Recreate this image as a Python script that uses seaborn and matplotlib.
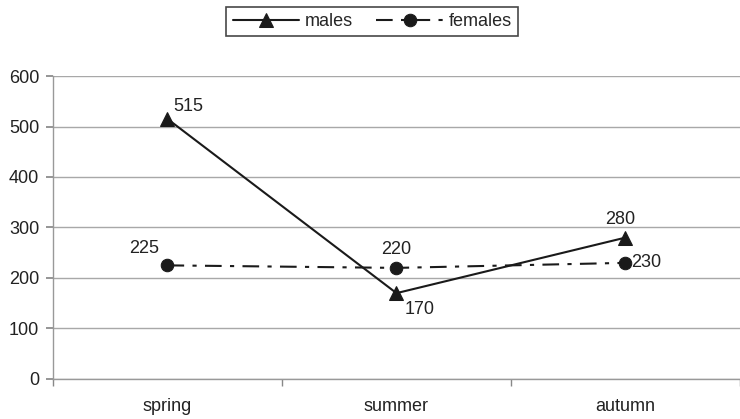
import matplotlib
matplotlib.use("Agg")
import matplotlib.pyplot as plt
import seaborn as sns
import pandas as pd

seasons = ["spring", "summer", "autumn"]
males = [515, 170, 280]
females = [225, 220, 230]
yticks = [0, 100, 200, 300, 400, 500, 600]

sns.set_theme(style="white")
plt.rcParams['font.family'] = ['Liberation Sans', 'DejaVu Sans']
FS = 13

fig = plt.figure(figsize=(7.4, 4.19), dpi=100)
ax = fig.add_axes([0.0716, 0.0955, 0.9284, 0.7231])

df_m = pd.DataFrame({"season": seasons, "value": males})
df_f = pd.DataFrame({"season": seasons, "value": females})

sns.lineplot(data=df_m, x="season", y="value", ax=ax, color="#1a1a1a", lw=1.5,
             marker="^", markersize=10, markeredgecolor="#1a1a1a", label="males", sort=False)
sns.lineplot(data=df_f, x="season", y="value", ax=ax, color="#1a1a1a", lw=1.5,
             marker="o", markersize=9, markeredgecolor="#1a1a1a", label="females", sort=False,
             linestyle=(0, (8, 4, 2, 4)))

ax.set_xlim(-0.5, 2.5)
ax.set_ylim(0, 600)
ax.set_yticks(yticks)
ax.set_xticks([0, 1, 2])
ax.set_xticklabels(seasons)
ax.set_xticks([-0.5, 0.5, 1.5, 2.5], minor=True)
ax.tick_params(axis='x', which='major', length=0, pad=14, labelsize=FS, colors="#222222")
ax.tick_params(axis='x', which='minor', length=5, color="#888888", direction='out', bottom=True)
ax.tick_params(axis='y', length=5, color="#888888", direction='out', left=True, labelsize=FS,
               labelcolor="#222222", pad=5)
for lab in ax.get_xticklabels():
    lab.set_color("#222222")
ax.set_xlabel("")
ax.set_ylabel("")
ax.grid(axis='y', color="#a8a8a8", lw=1)
ax.set_axisbelow(True)
for s in ["top", "right"]:
    ax.spines[s].set_visible(False)
for s in ["left", "bottom"]:
    ax.spines[s].set_color("#999999")
    ax.spines[s].set_linewidth(1)

# value labels
offs_m = [(4, 3, 'left', 'bottom'), (6, -6, 'left', 'top'), (-4, 7, 'center', 'bottom')]
offs_f = [(-6, 6, 'right', 'bottom'), (0, 7, 'center', 'bottom'), (4, 0, 'left', 'center')]
for i, (v, o) in enumerate(zip(males, offs_m)):
    ax.annotate(str(v), (i, v), xytext=(o[0], o[1]), textcoords='offset points',
                ha=o[2], va=o[3], fontsize=FS, color="#222222")
for i, (v, o) in enumerate(zip(females, offs_f)):
    ax.annotate(str(v), (i, v), xytext=(o[0], o[1]), textcoords='offset points',
                ha=o[2], va=o[3], fontsize=FS, color="#222222")

ax.get_legend().remove()
h, l = ax.get_legend_handles_labels()
leg = fig.legend(h, l, loc='center', bbox_to_anchor=(0.503, 0.949), ncol=2, frameon=True,
                 fancybox=False, edgecolor="#1a1a1a", handlelength=3.7, columnspacing=1.3,
                 handletextpad=0.3, borderpad=0.35, fontsize=FS)
leg.get_frame().set_linewidth(1.2)

fig.savefig("out.png", dpi=100, facecolor="white")
